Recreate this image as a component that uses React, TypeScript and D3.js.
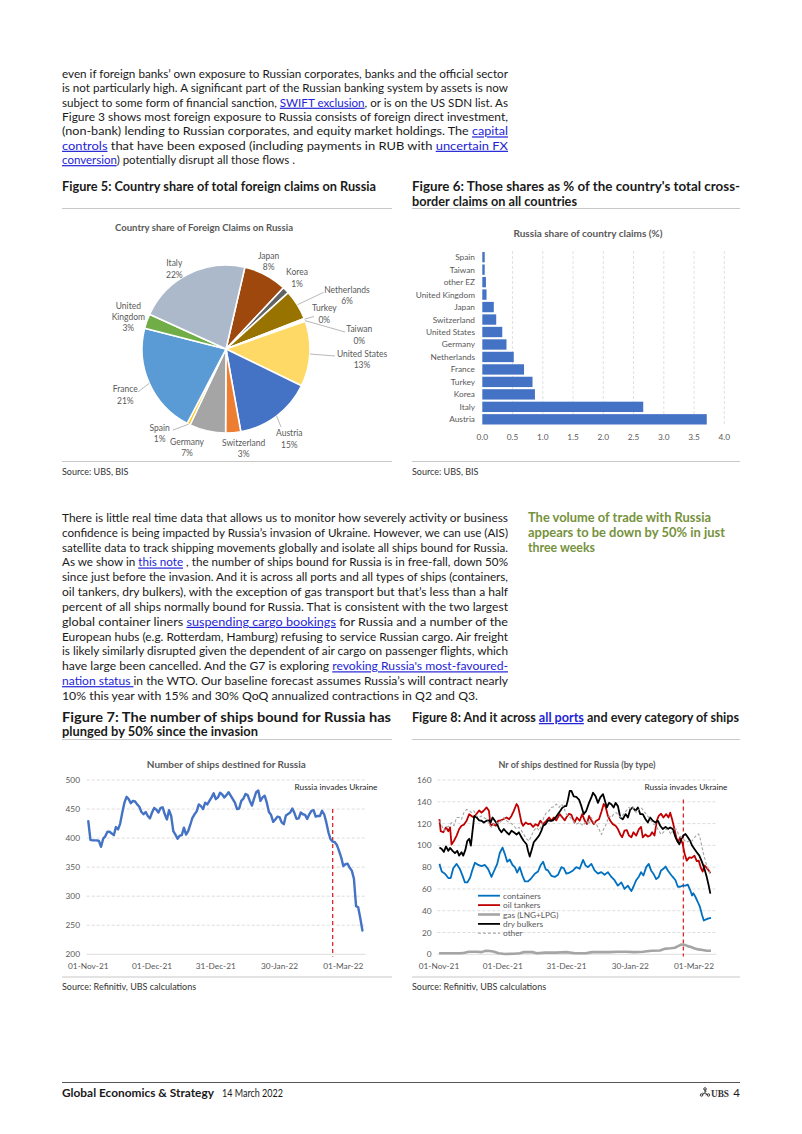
import React from 'react';
import * as d3 from 'd3';

const FONT = 'Lato, "Open Sans", sans-serif';
const TEXT = '#1a1a1a';
const LINK = '#2424D6';
const AXT = '#595959';
const GRID = '#D9D9D9';
const RULE = '#C8C8C8';

// ---------------- Text content ----------------
const topParagraph = [
  'even if foreign banks’ own exposure to Russian corporates, banks and the official sector',
  'is not particularly high. A significant part of the Russian banking system by assets is now',
  'subject to some form of financial sanction, [SWIFT exclusion], or is on the US SDN list. As',
  'Figure 3 shows most foreign exposure to Russia consists of foreign direct investment,',
  '(non-bank) lending to Russian corporates, and equity market holdings. The [capital]',
  '[controls] that have been exposed (including payments in RUB with [uncertain FX]',
  '[conversion]) potentially disrupt all those flows .',
];
const topLastWidth = 233;

const tradeParagraph = [
  'There is little real time data that allows us to monitor how severely activity or business',
  'confidence is being impacted by Russia’s invasion of Ukraine. However, we can use (AIS)',
  'satellite data to track shipping movements globally and isolate all ships bound for Russia.',
  'As we show in [this note] , the number of ships bound for Russia is in free-fall, down 50%',
  'since just before the invasion. And it is across all ports and all types of ships (containers,',
  'oil tankers, dry bulkers), with the exception of gas transport but that’s less than a half',
  'percent of all ships normally bound for Russia. That is consistent with the two largest',
  'global container liners [suspending cargo bookings] for Russia and a number of the',
  'European hubs (e.g. Rotterdam, Hamburg) refusing to service Russian cargo. Air freight',
  'is likely similarly disrupted given the dependent of air cargo on passenger flights, which',
  "have large been cancelled. And the G7 is exploring [revoking Russia's most-favoured-]",
  '[nation status ]in the WTO. Our baseline forecast assumes Russia’s will contract nearly',
  '10% this year with 15% and 30% QoQ annualized contractions in Q2 and Q3.',
];
const tradeLastWidth = 416;

const sidebarLines = ['The volume of trade with Russia', 'appears to be down by 50% in just', 'three weeks'];
const sidebarWidths = [183, 197, 67];

// ---------------- Figure 5: pie ----------------
const pieCountries = ['Japan', 'Korea', 'Netherlands', 'Turkey', 'Taiwan', 'United States', 'Austria', 'Switzerland', 'Germany', 'Spain', 'France', 'United Kingdom', 'Italy'];
const pieShares = [8.4, 1.3, 5.8, 0.3, 0.3, 12.6, 15.0, 2.9, 7.0, 0.6, 21.4, 2.8, 21.9];
const pieColors = ['#9E480E', '#636363', '#997300', '#264478', '#43682B', '#FFD966', '#4472C4', '#ED7D31', '#A5A5A5', '#FFC000', '#5B9BD5', '#70AD47', '#ACB9CA'];
// label placement relative to pie centre (layout only)
const pieLabelLayout: { dx: number; dy: number; leader?: [number, number] }[] = [
  { dx: 42.6, dy: -93.3 },
  { dx: 71, dy: -76.7 },
  { dx: 121, dy: -59, leader: [97.6, -56.7] },
  { dx: 98.3, dy: -40.7, leader: [88, -32.5] },
  { dx: 133.3, dy: -19.7, leader: [119, -17] },
  { dx: 136, dy: 5, leader: [109, 7] },
  { dx: 63.3, dy: 84.3, leader: [55, 78] },
  { dx: 17.6, dy: 93.7 },
  { dx: -39, dy: 92.7 },
  { dx: -66.4, dy: 78.7, leader: [-53, 81] },
  { dx: -100.7, dy: 40.3, leader: [-88, 43] },
  { dx: -97.7, dy: -43 },
  { dx: -51.7, dy: -85.7 },
];

// ---------------- Figure 6: bars ----------------
const barCountries = ['Spain', 'Taiwan', 'other EZ', 'United Kingdom', 'Japan', 'Switzerland', 'United States', 'Germany', 'Netherlands', 'France', 'Turkey', 'Korea', 'Italy', 'Austria'];
const barValues = [0.04, 0.04, 0.06, 0.07, 0.19, 0.23, 0.33, 0.40, 0.52, 0.69, 0.83, 0.87, 2.66, 3.71];
const barTicks = [0, 0.5, 1, 1.5, 2, 2.5, 3, 3.5, 4];

// ---------------- Figure 7 / 8: time series (day offsets from 01-Nov-21) ----------------
const dateTickDays = [0, 30, 60, 90, 120];
const invasionDay = 115;

const shipsTotal: [number, number][] = [
  [0, 429], [1, 397], [2, 396], [4, 396], [5, 395], [6, 385], [7, 399], [8, 403], [9, 411], [10, 411], [12, 405], [13, 419], [14, 415], [15, 425], [16, 444], [17, 461], [18, 471], [19, 467], [20, 460], [21, 464], [22, 463], [23, 458], [24, 454], [25, 445], [26, 441], [27, 445], [28, 438], [29, 434], [30, 444], [31, 452], [32, 449], [33, 444], [34, 452], [35, 453], [36, 441], [37, 432], [38, 448], [39, 438], [40, 412], [41, 406], [42, 399], [43, 404], [44, 405], [45, 418], [46, 406], [47, 412], [48, 423], [49, 435], [50, 441], [51, 446], [52, 458], [53, 455], [54, 450], [55, 461], [56, 458], [57, 464], [58, 470], [59, 477], [60, 467], [61, 470], [62, 478], [63, 475], [64, 470], [65, 474], [66, 479], [67, 473], [69, 461], [70, 450], [71, 451], [72, 464], [73, 468], [74, 476], [75, 474], [76, 464], [77, 456], [78, 468], [79, 479], [80, 482], [81, 464], [82, 470], [83, 473], [84, 461], [85, 445], [86, 440], [87, 428], [88, 432], [89, 437], [90, 436], [91, 427], [92, 424], [93, 439], [95, 444], [96, 451], [97, 443], [98, 433], [99, 434], [100, 444], [101, 441], [102, 440], [103, 433], [104, 441], [105, 447], [106, 448], [107, 437], [108, 438], [109, 438], [110, 447], [111, 441], [112, 427], [113, 410], [114, 398], [115, 394], [116, 393], [117, 388], [118, 378], [119, 367], [120, 352], [121, 355], [122, 356], [123, 349], [124, 344], [125, 330], [126, 283], [127, 281], [128, 262], [129, 241],
];
const shipsYTicks = [200, 250, 300, 350, 400, 450, 500];

const containers: [number, number][] = [
  [0.2, 83], [1.3, 76], [2.8, 74], [4.4, 70], [5.5, 70], [6.7, 79], [8.3, 83], [9.9, 78], [11.1, 72], [12.2, 66], [13.3, 66], [14.6, 70], [15.8, 78], [16.9, 84], [18.5, 82], [20.0, 81], [21.6, 82], [23.2, 78], [24.7, 71], [25.8, 76], [27.4, 83], [28.6, 93], [29.9, 98], [31.0, 92], [32.1, 85], [33.3, 87], [34.6, 82], [35.7, 80], [36.8, 75], [38.0, 80], [39.3, 72], [40.4, 67], [41.9, 67], [43.5, 70], [45.1, 74], [46.6, 76], [47.9, 82], [49.0, 85], [50.2, 78], [51.3, 77], [52.9, 72], [54.5, 71], [56.0, 73], [57.6, 80], [58.7, 79], [59.9, 74], [61.5, 75], [63.1, 77], [64.6, 80], [66.2, 78.5], [67.8, 86.7], [69.0, 81.5], [70.1, 80], [71.7, 83], [73.2, 77], [74.8, 74], [76.4, 75.4], [77.9, 73], [79.5, 75.4], [81.1, 71], [82.6, 68], [84.2, 63], [85.8, 66], [87.3, 60], [88.9, 63], [90.5, 58], [91.5, 62], [92.8, 68], [94.1, 71.5], [95.1, 75.4], [96.2, 72.4], [97.5, 80], [98.7, 83], [99.8, 77], [100.9, 74], [102.2, 69], [103.4, 71], [104.5, 77], [105.6, 78.5], [106.6, 80.6], [107.7, 77], [108.8, 74], [110.0, 71], [111.3, 68], [112.4, 62], [113.5, 62], [114.7, 63], [116.0, 63], [117.1, 64], [118.2, 59], [119.1, 54], [119.7, 56], [120.7, 52.6], [121.8, 48], [122.8, 43.5], [123.8, 36], [124.6, 31], [125.7, 32], [126.9, 33], [128.0, 33.5],
];
const oilTankers: [number, number][] = [
  [0.2, 124], [0.8, 113], [2.0, 112], [3.3, 116.5], [4.4, 113], [5.2, 116.5], [5.9, 100.7], [7.0, 104], [8.3, 109], [9.5, 115], [10.6, 118], [11.7, 119], [13.0, 122.6], [14.2, 128.7], [15.3, 127], [16.4, 125.6], [17.7, 129], [18.9, 132], [20.0, 130], [21.1, 132], [22.4, 134.8], [23.5, 131.7], [24.3, 118], [25.5, 119.5], [26.8, 118], [27.9, 122.6], [29.0, 123], [30.2, 124], [31.8, 125.6], [33.0, 124], [34.1, 127], [35.2, 131.7], [36.5, 138], [37.2, 136], [38.0, 128.7], [38.8, 121], [39.6, 118], [40.8, 121], [41.9, 119.5], [43.0, 120], [44.3, 117], [45.5, 119.5], [46.6, 118], [47.7, 122.6], [49.0, 119.5], [50.5, 122.6], [51.8, 125.6], [52.9, 122.6], [54.0, 125.6], [55.2, 123], [56.8, 128.7], [58.1, 125.6], [59.2, 123], [59.9, 125.6], [61.2, 129], [62.3, 128], [62.8, 125.6], [63.8, 121], [64.9, 125.6], [66.2, 122.6], [67.4, 128.7], [68.5, 123], [69.6, 119.5], [70.6, 127], [71.7, 123], [72.8, 119.5], [74.0, 122.6], [75.3, 124], [76.4, 130.7], [77.5, 138], [78.4, 135.4], [79.5, 127], [80.6, 122.6], [81.8, 119.5], [83.1, 118], [84.2, 115], [85.3, 110], [86.2, 107.4], [87.3, 113.5], [88.4, 114], [89.4, 109], [90.5, 107.4], [91.5, 112], [92.8, 109], [94.1, 115], [95.1, 117], [95.9, 107.4], [97.2, 110], [98.3, 108], [99.4, 109], [100.3, 112], [101.4, 109], [102.5, 122.6], [103.4, 127], [104.5, 129], [105.6, 125.6], [106.9, 128.7], [108.0, 125.6], [108.8, 130], [109.7, 124], [110.8, 115], [111.6, 107.4], [112.5, 103], [113.5, 107.4], [114.7, 101], [115.6, 92], [116.6, 86], [117.8, 89], [118.9, 88.5], [120.2, 90.6], [121.3, 85.5], [122.2, 86], [123.3, 79], [124.1, 76], [124.9, 81.5], [125.7, 80], [126.9, 77], [127.7, 74.5],
];
const gasCarriers: [number, number][] = [
  [0, 1], [10, 1], [12, 1.5], [14, 2.4], [18, 2.4], [20, 2], [22, 3.3], [24, 3], [26, 2.4], [28, 1], [31, 0.3], [35, 0.5], [38, 1], [40, 2], [44, 2], [46, 1], [50, 1.5], [55, 1.5], [60, 2], [64, 1], [69, 1], [72, 2], [76, 2], [80, 2], [84, 2.4], [88, 2.4], [92, 2], [96, 2.4], [100, 3.3], [104, 3.5], [106, 5], [109, 5.5], [111, 6], [113, 8], [114, 9], [116, 8.5], [117, 7.5], [119, 6.5], [120, 5.5], [122, 4.5], [124, 4], [126, 3.3], [128, 3.3],
];
const dryBulkers: [number, number][] = [
  [0.2, 98], [1.3, 96.7], [2.3, 94], [3.3, 99], [4.4, 95], [5.2, 97.6], [6.4, 95], [7.5, 92.8], [8.6, 95], [9.5, 90.6], [10.6, 93.7], [11.4, 90.6], [12.4, 95.8], [13.3, 104], [14.2, 106], [15.0, 99.8], [15.8, 113.5], [16.6, 127], [17.7, 125.6], [18.9, 123], [20.0, 122.6], [21.1, 121], [22.4, 122.6], [23.5, 123], [24.3, 121], [25.2, 125.6], [26.3, 122.6], [27.4, 119.5], [28.3, 115], [29.4, 112], [30.5, 115], [31.8, 112], [33.0, 110], [34.1, 113.5], [35.2, 112], [36.5, 110], [37.6, 112], [38.8, 107.4], [39.9, 104], [41.2, 101], [41.9, 95], [42.7, 89.7], [43.5, 95], [44.6, 102.8], [45.9, 106], [47.1, 109], [48.2, 113.5], [49.0, 118], [50.2, 119.5], [51.3, 123], [52.4, 122.6], [53.7, 123], [54.9, 125.6], [56.0, 128.7], [57.1, 131.7], [58.1, 134.8], [59.2, 136], [59.9, 136], [60.7, 142], [61.5, 150], [62.3, 150], [63.4, 145], [64.6, 144.5], [65.9, 142], [67.0, 136], [68.1, 128.7], [69.3, 131.7], [70.6, 139], [71.7, 144], [72.5, 148.4], [73.7, 145], [74.8, 139], [75.9, 144], [77.2, 147], [78.1, 141], [79.0, 134.8], [80.0, 139], [81.1, 137.8], [82.2, 134.8], [83.1, 139], [84.2, 136], [85.3, 125.6], [86.5, 124], [87.8, 128.7], [88.9, 125.6], [90.0, 133], [91.2, 134.8], [92.5, 131.7], [93.6, 134.8], [94.7, 128.7], [95.9, 128.7], [97.2, 124], [98.3, 121], [99.4, 125.6], [100.6, 122.6], [101.9, 121], [103.0, 122.6], [104.1, 118], [105.3, 115], [106.6, 117], [107.7, 115], [108.8, 116.5], [110.0, 115], [111.3, 107.4], [112.4, 103], [113.1, 101], [114.1, 106], [115.0, 109], [116.0, 110.5], [117.1, 107.4], [118.2, 104], [119.1, 99.8], [120.2, 96.7], [121.3, 93.7], [122.5, 90.6], [123.8, 84.6], [124.9, 78.5], [126.0, 71], [126.9, 63.3], [127.7, 55.7],
];
const otherShips: [number, number][] = [
  [0.2, 122.6], [1.3, 118], [2.3, 113.5], [3.6, 116.5], [4.9, 118], [5.9, 121], [7.0, 118], [8.3, 125.6], [9.5, 125.6], [10.6, 124], [11.7, 130], [13.0, 133], [14.2, 132], [15.3, 130], [16.4, 131.7], [17.7, 127], [18.9, 125.6], [20.0, 127], [21.1, 125.6], [22.4, 124], [23.6, 119.5], [24.7, 116.5], [25.8, 119.5], [27.1, 121], [28.3, 119.5], [29.4, 122.6], [30.5, 125.6], [31.8, 122.6], [33.0, 121], [34.1, 120], [35.2, 118], [36.5, 115], [37.7, 116.5], [38.8, 113.5], [39.9, 110], [41.2, 106], [42.4, 104], [43.5, 109], [44.6, 113.5], [45.9, 116.5], [47.1, 113.5], [48.2, 118], [49.3, 125.6], [50.5, 130], [51.8, 131.7], [52.9, 134.8], [54.0, 135.4], [55.2, 137.8], [56.5, 134.8], [57.6, 137.8], [58.7, 134.8], [59.9, 128.7], [61.2, 127], [63.1, 122.6], [64.6, 119.5], [66.2, 121], [67.8, 118], [69.3, 122.6], [70.6, 119.5], [71.7, 125.6], [72.8, 121], [74.0, 119.5], [75.3, 115], [76.4, 110], [77.5, 115], [78.7, 119.5], [80.0, 127], [81.1, 125.6], [82.2, 128.7], [83.4, 130], [84.7, 127], [85.8, 125.6], [86.9, 128.7], [88.1, 131.7], [89.4, 134.8], [90.5, 133], [91.5, 134.8], [92.8, 130], [94.1, 133], [95.1, 134.8], [96.2, 131.7], [97.5, 128.7], [98.7, 125.6], [99.8, 122.6], [100.9, 119.5], [102.2, 118], [103.4, 113.5], [104.5, 110], [105.6, 112], [106.9, 115], [108.1, 113.5], [109.2, 110], [110.3, 115], [111.6, 115], [112.8, 110], [113.9, 107.4], [115.0, 105.8], [116.3, 102.8], [117.5, 104], [118.6, 102.8], [119.7, 105.8], [121.0, 109], [122.2, 110.5], [122.8, 107.4], [123.8, 98], [124.9, 89], [126.0, 81.5], [126.9, 77], [127.7, 73],
];
const typeNames = ['containers', 'oil tankers', 'gas (LNG+LPG)', 'dry bulkers', 'other'];
const typeSeries = [containers, oilTankers, gasCarriers, dryBulkers, otherShips];
const typeStyles = [
  { color: '#0070C0', width: 1.8, dash: '' },
  { color: '#C00000', width: 1.8, dash: '' },
  { color: '#A5A5A5', width: 2.6, dash: '' },
  { color: '#000000', width: 1.8, dash: '' },
  { color: '#A5A5A5', width: 1.1, dash: '3,2' },
];
const typeYTicks = [0, 20, 40, 60, 80, 100, 120, 140, 160];

// ---------------- helpers ----------------
const DAY = 864e5;
const START = Date.UTC(2021, 10, 1);
const dayToDate = (d: number) => new Date(START + d * DAY);
const fmtDate = d3.utcFormat('%d-%b-%y');

function Rich({ x, y, text, width, size = 12, weight = 400, color = TEXT, anchor = 'start' }: any) {
  const parts = text.split(/(\[[^\]]*\])/).filter((s: string) => s.length);
  return (
    <text x={x} y={y} fontSize={size} fontFamily={FONT} fontWeight={weight} fill={color}
      textAnchor={anchor} textLength={width} lengthAdjust={width ? 'spacingAndGlyphs' : undefined}
      style={{ whiteSpace: 'pre' }}>
      {parts.map((p: string, i: number) =>
        p.startsWith('[') ? (
          <tspan key={i} fill={LINK} style={{ textDecoration: 'underline' }}>{p.slice(1, -1)}</tspan>
        ) : (
          <tspan key={i}>{p}</tspan>
        ))}
    </text>
  );
}

function PieFigure() {
  const cx = 226, cy = 349, r = 84;
  const total = d3.sum(pieShares);
  const toRad = Math.PI / 180;
  const pie = d3.pie<number>().sort(null).value(d => d).startAngle(13 * toRad).endAngle(373 * toRad);
  const arcs = pie(pieShares);
  const arc = d3.arc<d3.PieArcDatum<number>>().innerRadius(0).outerRadius(r);
  return (
    <g>
      <text x={204} y={231} textAnchor="middle" fontFamily={FONT} fontWeight={700} fontSize={9.5} fill={AXT} textLength={178} lengthAdjust="spacingAndGlyphs">Country share of Foreign Claims on Russia</text>
      <g transform={`translate(${cx},${cy})`}>
        {arcs.map((a, i) => (
          <path key={i} d={arc(a) || ''} fill={pieColors[i]} stroke="#fff" strokeWidth={1.6} strokeLinejoin="round" />
        ))}
        {arcs.map((a, i) => {
          const L = pieLabelLayout[i];
          const mid = (a.startAngle + a.endAngle) / 2;
          const lines = pieCountries[i] === 'United Kingdom' ? ['United', 'Kingdom'] : [pieCountries[i]];
          lines.push(Math.round((pieShares[i] / total) * 100) + '%');
          return (
            <g key={'l' + i}>
              {L.leader && (
                <line x1={Math.sin(mid) * r} y1={-Math.cos(mid) * r} x2={L.leader[0]} y2={L.leader[1]} stroke="#A6A6A6" strokeWidth={0.8} />
              )}
              {lines.map((t, j) => (
                <text key={j} x={L.dx} y={L.dy + j * 11.2 + 3} textAnchor="middle" fontFamily={FONT} fontSize={8.5} fill={AXT}>{t}</text>
              ))}
            </g>
          );
        })}
      </g>
    </g>
  );
}

function BarFigure() {
  const x = d3.scaleLinear().domain([0, 4]).range([482.3, 724.3]);
  const y = d3.scaleBand<string>().domain(barCountries).range([251, 425.5]).paddingInner(0.17).paddingOuter(0.08);
  return (
    <g>
      <text x={588} y={236.5} textAnchor="middle" fontFamily={FONT} fontWeight={700} fontSize={9.5} fill={AXT} textLength={149} lengthAdjust="spacingAndGlyphs">Russia share of country claims (%)</text>
      {barTicks.filter(t => t > 0).map(t => (
        <line key={t} x1={x(t)} x2={x(t)} y1={251} y2={425.5} stroke={GRID} strokeDasharray="3,2" strokeWidth={0.8} />
      ))}
      {barCountries.map((c, i) => (
        <rect key={c} x={x(0)} y={y(c)!} width={x(barValues[i]) - x(0)} height={y.bandwidth()} fill="#4472C4" />
      ))}
      {barCountries.map(c => (
        <text key={'t' + c} x={475} y={y(c)! + y.bandwidth() / 2 + 3} textAnchor="end" fontFamily={FONT} fontSize={8.3} fill={AXT}>{c}</text>
      ))}
      {barTicks.map(t => (
        <text key={'x' + t} x={x(t)} y={440} textAnchor="middle" fontFamily={FONT} fontSize={8.3} fill={AXT}>{t.toFixed(1)}</text>
      ))}
    </g>
  );
}

function TimeChart({ x0, yDomain, yTicks, title, titleWidth, labelRight, children, annX, invasionTop }: any) {
  const x = d3.scaleUtc().domain([dayToDate(0), dayToDate(131)]).range([x0, x0 + 131 * 2.125]);
  const y = d3.scaleLinear().domain(yDomain).range([954.3, 780]);
  const gx1 = x0 - 1.6, gx2 = x0 + 277.5;
  const invX = x(dayToDate(invasionDay));
  return (
    <g>
      <text x={x0 + 138} y={767.5} textAnchor="middle" fontFamily={FONT} fontWeight={700} fontSize={9.5} fill={AXT} textLength={titleWidth} lengthAdjust="spacingAndGlyphs">{title}</text>
      {yTicks.map((t: number, i: number) => (
        <line key={t} x1={gx1} x2={gx2} y1={y(t)} y2={y(t)} stroke={GRID} strokeWidth={0.9} strokeDasharray={i === 0 ? '' : '3,2'} />
      ))}
      {yTicks.map((t: number) => (
        <text key={'y' + t} x={labelRight} y={y(t) + 3} textAnchor="end" fontFamily={FONT} fontSize={8.3} fill={AXT}>{t}</text>
      ))}
      {dateTickDays.map(d => (
        <text key={'d' + d} x={x(dayToDate(d))} y={968.5} textAnchor="middle" fontFamily={FONT} fontSize={8.3} fill={AXT}>{fmtDate(dayToDate(d))}</text>
      ))}
      <line x1={invX} x2={invX} y1={y(invasionTop)} y2={956.5} stroke="#E02828" strokeWidth={1.3} strokeDasharray="4,3" />
      <text x={annX} y={789.5} textAnchor="middle" fontFamily={FONT} fontSize={8.3} fill="#262626">Russia invades Ukraine</text>
      {children(x, y)}
    </g>
  );
}

function UbsLogo({ x, y }: any) {
  const angles = [-90, 30, 150];
  return (
    <g transform={`translate(${x},${y})`} stroke="#333" strokeWidth={0.9} fill="none">
      {angles.map(a => {
        const r = (a * Math.PI) / 180;
        return (
          <g key={a}>
            <line x1={0} y1={0} x2={Math.cos(r) * 4} y2={Math.sin(r) * 4} />
            <circle cx={Math.cos(r) * 4} cy={Math.sin(r) * 4} r={1.3} />
            <line x1={Math.cos(r) * 1.8} y1={Math.sin(r) * 1.8} x2={Math.cos(r) * 1.8 + Math.cos(r + 1.57) * 1.5} y2={Math.sin(r) * 1.8 + Math.sin(r + 1.57) * 1.5} />
          </g>
        );
      })}
    </g>
  );
}

export default function App() {
  const lineGen = (x: any, y: any) =>
    d3.line<[number, number]>().x(d => x(dayToDate(d[0]))).y(d => y(d[1]));

  return (
    <div style={{ position: 'absolute', left: 0, top: 0 }}>
      <svg width={802} height={1134} viewBox="0 0 802 1134" style={{ display: 'block', background: '#fff' }}>
        <rect width={802} height={1134} fill="#fff" />

        {/* top paragraph */}
        {topParagraph.map((t, i) => (
          <Rich key={'p1' + i} x={62} y={78 + i * 14.35} text={t} width={i === topParagraph.length - 1 ? topLastWidth : 446} />
        ))}

        {/* Figure 5 / 6 headers */}
        <Rich x={62} y={191} text="Figure 5: Country share of total foreign claims on Russia" width={314} size={12.5} weight={700} />
        <Rich x={412} y={191} text="Figure 6: Those shares as % of the country's total cross-" width={328} size={12.5} weight={700} />
        <Rich x={412} y={205.5} text="border claims on all countries" width={165} size={12.5} weight={700} />
        <line x1={62} x2={392} y1={208.5} y2={208.5} stroke={RULE} strokeWidth={1.2} />
        <line x1={412} x2={740} y1={208.5} y2={208.5} stroke={RULE} strokeWidth={1.2} />

        <PieFigure />
        <BarFigure />

        <line x1={62} x2={392} y1={461.5} y2={461.5} stroke={RULE} strokeWidth={1.2} />
        <line x1={412} x2={740} y1={461.5} y2={461.5} stroke={RULE} strokeWidth={1.2} />
        <text x={62} y={475} fontFamily={FONT} fontSize={9} fill="#333">Source: UBS, BIS</text>
        <text x={412} y={475} fontFamily={FONT} fontSize={9} fill="#333">Source: UBS, BIS</text>

        {/* trade paragraph */}
        {tradeParagraph.map((t, i) => (
          <Rich key={'p2' + i} x={62} y={522 + i * 14.83} text={t} width={i === tradeParagraph.length - 1 ? tradeLastWidth : 446} />
        ))}
        {sidebarLines.map((t, i) => (
          <Rich key={'sb' + i} x={528} y={522 + i * 15} text={t} width={sidebarWidths[i]} size={12.5} weight={700} color="#76923C" />
        ))}

        {/* Figure 7 / 8 headers */}
        <Rich x={62} y={722} text="Figure 7: The number of ships bound for Russia has" width={329} size={12.5} weight={700} />
        <Rich x={62} y={735.5} text="plunged by 50% since the invasion" width={196} size={12.5} weight={700} />
        <Rich x={412} y={722} text="Figure 8: And it across [all ports] and every category of ships" width={327} size={12.5} weight={700} />
        <line x1={62} x2={392} y1={739.5} y2={739.5} stroke={RULE} strokeWidth={1.2} />
        <line x1={412} x2={740} y1={739.5} y2={739.5} stroke={RULE} strokeWidth={1.2} />

        <TimeChart x0={88.3} yDomain={[200, 500]} yTicks={shipsYTicks} title="Number of ships destined for Russia" titleWidth={159} labelRight={80} annX={336} invasionTop={450}>
          {(x: any, y: any) => (
            <path d={lineGen(x, y)(shipsTotal) || ''} fill="none" stroke="#4472C4" strokeWidth={2.4} strokeLinejoin="round" strokeLinecap="round" />
          )}
        </TimeChart>

        <TimeChart x0={439} yDomain={[0, 160]} yTicks={typeYTicks} title="Nr of ships destined for Russia (by type)" titleWidth={157} labelRight={431.5} annX={686} invasionTop={142}>
          {(x: any, y: any) => (
            <g>
              {typeSeries.map((s, i) => (
                <path key={i} d={lineGen(x, y)(s) || ''} fill="none" stroke={typeStyles[i].color} strokeWidth={typeStyles[i].width} strokeDasharray={typeStyles[i].dash} strokeLinejoin="round" />
              ))}
              {typeNames.map((n, i) => (
                <g key={'lg' + i}>
                  <line x1={478} x2={500} y1={895.7 + i * 9.4} y2={895.7 + i * 9.4} stroke={typeStyles[i].color} strokeWidth={typeStyles[i].width} strokeDasharray={typeStyles[i].dash} />
                  <text x={503} y={895.7 + i * 9.4 + 3} fontFamily={FONT} fontSize={8.3} fill={AXT}>{n}</text>
                </g>
              ))}
            </g>
          )}
        </TimeChart>

        <line x1={62} x2={392} y1={977} y2={977} stroke={RULE} strokeWidth={1.2} />
        <line x1={412} x2={740} y1={977} y2={977} stroke={RULE} strokeWidth={1.2} />
        <text x={62} y={990} fontFamily={FONT} fontSize={9} fill="#333">Source: Refinitiv, UBS calculations</text>
        <text x={412} y={990} fontFamily={FONT} fontSize={9} fill="#333">Source: Refinitiv, UBS calculations</text>

        {/* footer */}
        <line x1={62} x2={740} y1={1082.5} y2={1082.5} stroke="#555" strokeWidth={1} />
        <text x={62} y={1097} fontFamily={FONT} fontSize={11.5} fontWeight={700} fill={TEXT} textLength={152} lengthAdjust="spacingAndGlyphs">Global Economics &amp; Strategy</text>
        <text x={222} y={1097} fontFamily={FONT} fontSize={11.5} fill={TEXT} textLength={61} lengthAdjust="spacingAndGlyphs">14 March 2022</text>
        <UbsLogo x={705} y={1093} />
        <text x={711} y={1097} fontFamily='"Liberation Serif", serif' fontSize={10.5} fontWeight={700} fill="#333" textLength={18} lengthAdjust="spacingAndGlyphs">UBS</text>
        <text x={740} y={1097} textAnchor="end" fontFamily={FONT} fontSize={11.5} fill={TEXT}>4</text>
      </svg>
    </div>
  );
}
